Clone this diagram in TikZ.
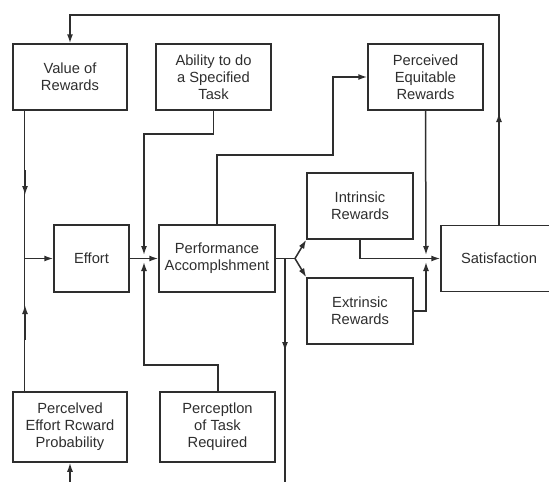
\documentclass[tikz,border=0pt]{standalone}
\usepackage{fontspec}
\setmainfont{Liberation Sans}
\usetikzlibrary{arrows.meta,calc}
\definecolor{ink}{HTML}{2E2E2E}
\begin{document}
\begin{tikzpicture}[x=1pt,y=-1pt,
  box/.style={draw=ink,line width=1.5pt,text=ink,align=center,inner sep=0pt,
    font=\fontsize{14.7}{17}\selectfont},
  ln/.style={draw=ink,line width=1.5pt},
  tip/.style={ln,-{Latex[length=9pt,width=6pt]}}]
\useasboundingbox (0,0) rectangle (549,482);
\begin{scope}
\clip (0,0) rectangle (549,482);
% boxes
\node[box,minimum width=114pt,minimum height=66pt] (val)  at (70,77)    {Value of\\Rewards};
\node[box,minimum width=115pt,minimum height=66pt] (abil) at (213.5,77) {Ability to do\\a Specified\\Task};
\node[box,minimum width=115pt,minimum height=66pt] (equ)  at (425.5,77) {Perceived\\Equitable\\Rewards};
\node[box,minimum width=75pt,minimum height=67pt]  (eff)  at (91.5,258.5) {Effort};
\node[box,minimum width=116pt,minimum height=67pt] (perf) at (217,258.5) {Performance\\Accomplshment};
\node[box,minimum width=106pt,minimum height=66pt] (intr) at (360,206)  {Intrinsic\\Rewards};
\node[box,minimum width=106pt,minimum height=66pt] (extr) at (360,311)  {Extrinsic\\Rewards};
\node[box,minimum width=116pt,minimum height=66pt] (sat)  at (499,258.5) {Satisfaction};
\node[box,minimum width=114pt,minimum height=70pt] (perp) at (70,427)   {Percelved\\Effort Rcward\\Probability};
\node[box,minimum width=115pt,minimum height=70pt] (ptr)  at (217.5,427) {Perceptlon\\of Task\\Required};

% junction points
\coordinate (jl) at (25,258.5);
\coordinate (jm) at (144,258.5);
\coordinate (jf) at (295,258.5);
\coordinate (jd) at (285,258.5);
\coordinate (bottomA) at (70,482);
\coordinate (bottomB) at (285,482);

% feedback from satisfaction to value of rewards
\draw[tip] (sat.north) -- (499,15) -| (val.north);
\draw[tip] (499,140) -- (499,113);

% left column: value and probability feed effort
\draw[ln] ($(val.south west)+(12,0)$) -- ($(perp.north west)+(12,0)$);
\draw[tip] (25,170) -- (25,195);
\draw[tip] (25,340) -- (25,305);
\draw[tip] (jl) -- (eff.west);
\draw[tip] (bottomA) -- (perp.south);

% effort, ability and task perception into performance
\draw[ln] (eff.east) -- (jm);
\draw[tip] (jm) -- (perf.west);
\draw[tip] (abil.south) |- (144,134) -- (144,255);
\draw[tip] ($(ptr.north)+(0.5,0)$) |- (144,365) -- (144,262);

% performance to equitable rewards
\draw[tip] (perf.north) |- (333,155) |- (equ.west);

% performance to the two kinds of reward
\draw[ln] (perf.east) -- (jf);
\draw[tip] (jf) -- (intr.south west);
\draw[tip] (jf) -- (extr.north west);
\draw[ln] (jd) -- (bottomB);
\draw[tip] (285,320) -- (285,351);

% rewards into satisfaction
\draw[tip] (intr.south) |- (sat.west);
\draw[tip] (equ.south) -- (426,255);
\draw[tip] (extr.east) -| (426,262);
\end{scope}
\end{tikzpicture}
\end{document}
